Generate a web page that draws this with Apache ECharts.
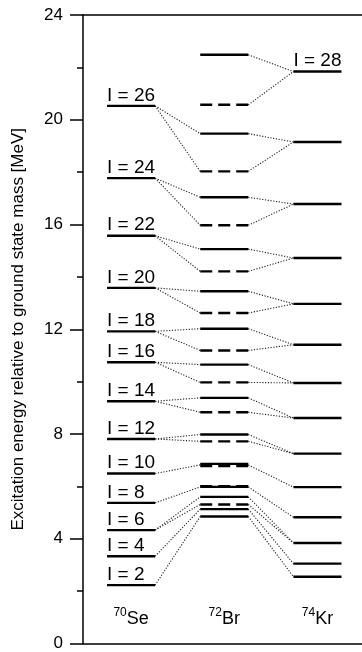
<!DOCTYPE html>
<html>
<head>
<meta charset="utf-8">
<script src="https://cdn.jsdelivr.net/npm/echarts@6/dist/echarts.min.js"></script>
<style>html,body{margin:0;padding:0;background:#fff;}#c{width:362px;height:652px;}</style>
</head>
<body>
<div id="c"></div>
<script>
// ---- data ----
const nuclei = ['70Se', '72Br', '74Kr'];
const nucleusMass = ['70', '72', '74'];
const nucleusSymbol = ['Se', 'Br', 'Kr'];
const yTicks = [0, 4, 8, 12, 16, 20, 24];

const seSpins = [2, 4, 6, 8, 10, 12, 14, 16, 18, 20, 22, 24, 26];
const seEnergies = [2.23, 3.33, 4.33, 5.37, 6.49, 7.81, 9.25, 10.74, 11.92, 13.58, 15.57, 17.77, 20.53];

const brSolid = [4.85, 5.13, 5.60, 5.98, 6.86, 7.98, 9.38, 10.65, 12.02, 13.45, 15.06, 17.04, 19.47, 22.48];
const brDashed = [5.31, 6.01, 6.78, 7.72, 8.83, 9.97, 11.19, 12.62, 14.21, 15.97, 18.03, 20.57];

const krSpins = [2, 4, 6, 8, 10, 12, 14, 16, 18, 20, 22, 24, 26, 28];
const krEnergies = [2.55, 3.05, 3.84, 4.82, 5.97, 7.25, 8.61, 9.95, 11.41, 12.97, 14.72, 16.78, 19.15, 21.84];
const krLabelled = [28];

// connections: [energy in left nucleus, energy in right nucleus]
const seToBr = [
  [2.23, 4.85], [3.33, 5.13], [4.33, 5.31], [4.33, 5.60], [5.37, 5.98],
  [6.49, 6.82], [7.81, 7.98], [7.81, 7.72], [9.25, 9.38], [9.25, 8.83],
  [10.74, 10.65], [10.74, 9.97], [11.92, 12.02], [11.92, 11.19],
  [13.58, 13.45], [13.58, 12.62], [15.57, 15.06], [15.57, 14.21],
  [17.77, 17.04], [17.77, 15.97], [20.53, 19.47], [20.53, 18.03]
];
const brToKr = [
  [4.85, 2.55], [5.13, 3.05], [5.31, 3.84], [5.60, 3.84], [5.98, 4.82],
  [6.82, 5.97], [7.98, 7.25], [7.72, 7.25], [9.38, 8.61], [8.83, 8.61],
  [10.65, 9.95], [9.97, 9.95], [12.02, 11.41], [11.19, 11.41],
  [13.45, 12.97], [12.62, 12.97], [15.06, 14.72], [14.21, 14.72],
  [17.04, 16.78], [15.97, 16.78], [19.47, 19.15], [18.03, 19.15],
  [22.48, 21.84], [20.57, 21.84]
];

// ---- build series data ----
const HW = 0.258; // half width of a level in x units
const levelData = [];
const levelLabels = [];
seEnergies.forEach((e, i) => { levelData.push([0, e, 0]); levelLabels.push('I = ' + seSpins[i]); });
brSolid.forEach(e => { levelData.push([1, e, 0]); levelLabels.push(null); });
brDashed.forEach(e => { levelData.push([1, e, 1]); levelLabels.push(null); });
krEnergies.forEach((e, i) => {
  levelData.push([2, e, 0]);
  levelLabels.push(krLabelled.indexOf(krSpins[i]) >= 0 ? 'I = ' + krSpins[i] : null);
});

const linkData = [];
seToBr.forEach(p => linkData.push([0, p[0], 1, p[1]]));
brToKr.forEach(p => linkData.push([1, p[0], 2, p[1]]));

const nucData = nuclei.map((n, i) => [i, 0.95]);

const chart = echarts.init(document.getElementById('c'), null, { renderer: 'canvas' });
const FONT = '"Liberation Sans", Arial, Helvetica, sans-serif';

chart.setOption({
  backgroundColor: '#fff',
  animation: false,
  grid: { left: 83, right: 0, top: 15, bottom: 8 },
  xAxis: [
    { type: 'value', min: -0.516, max: 2.478, position: 'bottom',
      axisLine: { show: true, onZero: false, lineStyle: { color: '#000', width: 1.5 } },
      axisTick: { show: false }, axisLabel: { show: false }, splitLine: { show: false } },
    { type: 'value', min: -0.516, max: 2.478, position: 'top',
      axisLine: { show: true, onZero: false, lineStyle: { color: '#000', width: 1.5 } },
      axisTick: { show: false }, axisLabel: { show: false }, splitLine: { show: false } }
  ],
  yAxis: {
    type: 'value', min: 0, max: 24, interval: 4,
    name: 'Excitation energy relative to ground state mass [MeV]',
    nameLocation: 'middle', nameGap: 56,
    nameTextStyle: { fontSize: 17, color: '#000', fontFamily: FONT },
    axisLine: { show: true, onZero: false, lineStyle: { color: '#000', width: 1.5 } },
    axisTick: { show: true, length: 13, lineStyle: { color: '#000', width: 1.5 } },
    minorTick: { show: true, splitNumber: 2, length: 6, lineStyle: { color: '#000', width: 1.5 } },
    axisLabel: { fontSize: 17, color: '#000', margin: 20, fontFamily: FONT,
      formatter: v => (yTicks.indexOf(v) >= 0 ? String(v) : '') },
    splitLine: { show: false }
  },
  series: [
    {
      type: 'custom', coordinateSystem: 'cartesian2d', silent: true, z: 2,
      data: linkData,
      renderItem: (params, api) => {
        const a = api.coord([api.value(0) + HW, api.value(1)]);
        const b = api.coord([api.value(2) - HW, api.value(3)]);
        return { type: 'line', shape: { x1: a[0], y1: a[1], x2: b[0], y2: b[1] },
          style: { stroke: '#222', lineWidth: 1.1, lineDash: [1.2, 1.6] } };
      }
    },
    {
      type: 'custom', coordinateSystem: 'cartesian2d', silent: true, z: 3,
      data: levelData,
      renderItem: (params, api) => {
        const c = api.value(0), e = api.value(1), d = api.value(2);
        const a = api.coord([c - HW, e]);
        const b = api.coord([c + HW, e]);
        const children = [{ type: 'line', shape: { x1: a[0], y1: a[1], x2: b[0], y2: b[1] },
          style: { stroke: '#000', lineWidth: 2.4, lineDash: d ? [12, 6] : null } }];
        const lab = levelLabels[params.dataIndex];
        if (lab) {
          children.push({ type: 'text', x: a[0], y: a[1] - 1,
            style: { text: lab, fontSize: 19, fontFamily: FONT, fill: '#000',
              align: 'left', verticalAlign: 'bottom' } });
        }
        return { type: 'group', children: children };
      }
    },
    {
      type: 'custom', coordinateSystem: 'cartesian2d', silent: true, z: 3,
      data: nucData,
      renderItem: (params, api) => {
        const p = api.coord([api.value(0), api.value(1)]);
        const i = params.dataIndex;
        return { type: 'text', x: p[0], y: p[1],
          style: { text: '{sup|' + nucleusMass[i] + '}{main|' + nucleusSymbol[i] + '}',
            align: 'center', verticalAlign: 'middle',
            rich: {
              sup: { fontSize: 12, fontFamily: FONT, fill: '#000', padding: [0, 0, 11, 0] },
              main: { fontSize: 18, fontFamily: FONT, fill: '#000' }
            } } };
      }
    }
  ]
});
</script>
</body>
</html>
